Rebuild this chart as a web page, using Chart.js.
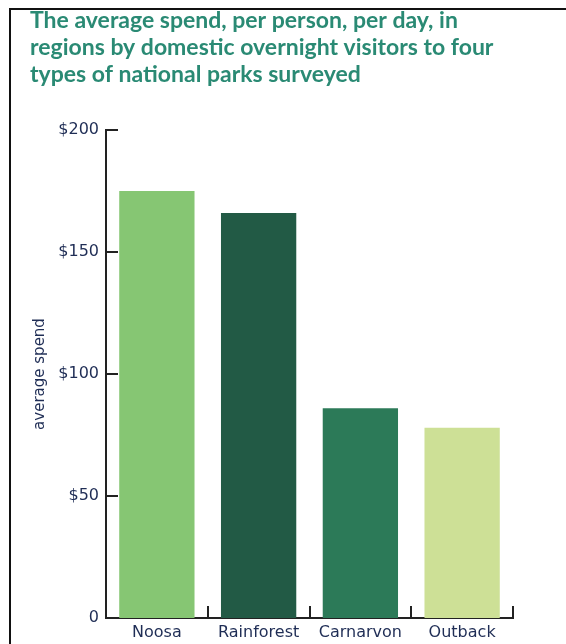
<!DOCTYPE html>
<html>
<head>
<meta charset="utf-8">
<script src="https://cdn.jsdelivr.net/npm/chart.js@4/dist/chart.umd.min.js"></script>
<style>
  html, body { margin: 0; padding: 0; background: #fff; }
  #wrap { position: relative; width: 566px; height: 644px; overflow: hidden; }
  #frame { position: absolute; left: 9px; top: 8px; right: -4px; bottom: -4px;
           border-top: 2px solid #111; border-left: 2px solid #111; }
  #chart { position: absolute; left: 0; top: 0; }
</style>
</head>
<body>
<div id="wrap">
  <div id="frame"></div>
  <canvas id="chart" width="566" height="644"></canvas>
</div>
<script>
const parks = ['Noosa', 'Rainforest', 'Carnarvon', 'Outback'];
const spend = [175, 166, 86, 78];
const barColours = ['#86c673', '#225a45', '#2c7a58', '#cde096'];
const yTicks = [0, 50, 100, 150, 200];
const titleLines = [
    'The average spend, per person, per day, in',
    'regions by domestic overnight visitors to four',
    'types of national parks surveyed'
];

const inkColour = '#1f2d55';
const axisColour = '#222';

// tick marks point inward, so they are drawn by hand from the scales
const inwardTicks = {
    id: 'inwardTicks',
    afterDraw(chart) {
        const ctx = chart.ctx;
        const x = chart.scales.x;
        const y = chart.scales.y;
        const left = chart.chartArea.left;
        const bottom = chart.chartArea.bottom;
        ctx.save();
        ctx.strokeStyle = axisColour;
        ctx.lineWidth = 2;
        ctx.beginPath();
        yTicks.forEach(v => {
            const py = Math.round(y.getPixelForValue(v));
            ctx.moveTo(left, py);
            ctx.lineTo(left + 12, py);
        });
        for (let i = 1; i <= parks.length; i++) {
            const px = Math.round((x.getPixelForValue(i - 1) + x.getPixelForValue(i)) / 2);
            ctx.moveTo(px, bottom);
            ctx.lineTo(px, bottom - 12);
        }
        ctx.stroke();
        ctx.restore();
    }
};

new Chart(document.getElementById('chart'), {
    type: 'bar',
    data: {
        labels: parks,
        datasets: [{
            label: 'average spend',
            data: spend,
            backgroundColor: barColours,
            borderWidth: 0,
            barPercentage: 0.74,
            categoryPercentage: 1
        }]
    },
    options: {
        responsive: false,
        animation: false,
        layout: { padding: { left: 30, top: 7, right: 53, bottom: 0 } },
        plugins: {
            legend: { display: false },
            tooltip: { enabled: false },
            title: {
                display: true,
                text: titleLines,
                align: 'start',
                color: '#2a8a74',
                font: { family: 'Lato', size: 23, weight: 'bold', lineHeight: '27px' },
                padding: { top: 0, bottom: 42 }
            }
        },
        scales: {
            x: {
                grid: { display: false, drawTicks: false },
                border: { display: true, color: axisColour, width: 2 },
                ticks: {
                    color: inkColour,
                    padding: 5,
                    font: { family: 'DejaVu Sans', size: 16 }
                },
                afterFit(scale) { scale.height = 26; }
            },
            y: {
                min: 0,
                max: 200,
                afterBuildTicks(scale) { scale.ticks = yTicks.map(v => ({ value: v })); },
                grid: { display: false, drawTicks: false },
                border: { display: true, color: axisColour, width: 2 },
                ticks: {
                    color: inkColour,
                    padding: 7,
                    font: { family: 'DejaVu Sans', size: 16 },
                    callback: v => v === 0 ? '0' : '$' + v
                },
                title: {
                    display: true,
                    text: 'average spend',
                    color: inkColour,
                    font: { family: 'DejaVu Sans', size: 15 },
                    padding: { top: 1, bottom: 0 }
                },
                afterFit(scale) { scale.width = 76; }
            }
        }
    },
    plugins: [inwardTicks]
});
</script>
</body>
</html>
